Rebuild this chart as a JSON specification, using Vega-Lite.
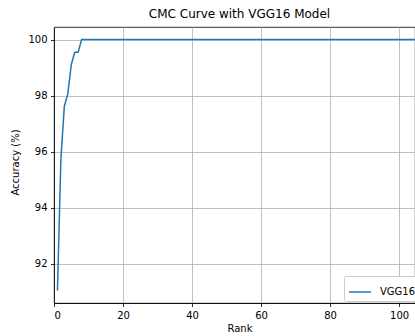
{
  "$schema": "https://vega.github.io/schema/vega-lite/v6.json",
  "autosize": {"type": "none"},
  "padding": {"left": 54, "top": 27, "right": 0, "bottom": 33},
  "width": 361,
  "height": 276,
  "background": "white",
  "config": {
    "font": "DejaVu Sans",
    "view": {"stroke": "black", "strokeWidth": 0.8},
    "axis": {
      "labelFont": "DejaVu Sans",
      "labelFontSize": 10,
      "labelColor": "black",
      "titleFont": "DejaVu Sans",
      "titleFontSize": 10,
      "titleFontWeight": "normal",
      "titleColor": "black",
      "tickColor": "black",
      "tickWidth": 0.8,
      "tickSize": 3.5,
      "labelPadding": 3.5,
      "domainColor": "black",
      "domainWidth": 0.8,
      "gridColor": "#b0b0b0",
      "gridWidth": 0.8,
      "gridOpacity": 1
    }
  },
  "title": {
    "text": "CMC Curve with VGG16 Model",
    "font": "DejaVu Sans",
    "fontSize": 12,
    "fontWeight": "normal",
    "color": "black",
    "dx": 5,
    "offset": 6
  },
  "data": {
    "values": [
      {"rank": 1, "accuracy": 91.04, "model": "VGG16"},
      {"rank": 2, "accuracy": 95.75, "model": "VGG16"},
      {"rank": 3, "accuracy": 97.62, "model": "VGG16"},
      {"rank": 4, "accuracy": 98.06, "model": "VGG16"},
      {"rank": 5, "accuracy": 99.1, "model": "VGG16"},
      {"rank": 6, "accuracy": 99.55, "model": "VGG16"},
      {"rank": 7, "accuracy": 99.55, "model": "VGG16"},
      {"rank": 8, "accuracy": 100, "model": "VGG16"},
      {"rank": 9, "accuracy": 100, "model": "VGG16"},
      {"rank": 10, "accuracy": 100, "model": "VGG16"},
      {"rank": 15, "accuracy": 100, "model": "VGG16"},
      {"rank": 20, "accuracy": 100, "model": "VGG16"},
      {"rank": 30, "accuracy": 100, "model": "VGG16"},
      {"rank": 40, "accuracy": 100, "model": "VGG16"},
      {"rank": 50, "accuracy": 100, "model": "VGG16"},
      {"rank": 60, "accuracy": 100, "model": "VGG16"},
      {"rank": 70, "accuracy": 100, "model": "VGG16"},
      {"rank": 80, "accuracy": 100, "model": "VGG16"},
      {"rank": 90, "accuracy": 100, "model": "VGG16"},
      {"rank": 100, "accuracy": 100, "model": "VGG16"},
      {"rank": 110, "accuracy": 100, "model": "VGG16"}
    ]
  },
  "mark": {"type": "line", "strokeWidth": 1.5, "clip": true},
  "encoding": {
    "x": {
      "field": "rank",
      "type": "quantitative",
      "scale": {"domain": [0, 104.6], "nice": false, "zero": false},
      "axis": {"title": "Rank", "values": [0, 20, 40, 60, 80, 100], "titleX": 185.5, "titleY": 20, "titleBaseline": "top", "titleAnchor": null}
    },
    "y": {
      "field": "accuracy",
      "type": "quantitative",
      "scale": {"domain": [90.59, 100.45], "nice": false, "zero": false},
      "axis": {"title": "Accuracy (%)", "values": [92, 94, 96, 98, 100], "titleX": -34, "titleY": 135}
    },
    "color": {
      "field": "model",
      "type": "nominal",
      "scale": {"range": ["#1f77b4"]},
      "legend": {
        "title": null,
        "orient": "none",
        "legendX": 290,
        "legendY": 249,
        "symbolType": "stroke",
        "symbolSize": 484,
        "symbolStrokeWidth": 1.5,
        "labelFont": "DejaVu Sans",
        "labelFontSize": 10,
        "labelColor": "black",
        "labelOffset": 8,
        "padding": 4,
        "fillColor": "white",
        "strokeColor": "#cccccc",
        "cornerRadius": 2
      }
    }
  }
}
